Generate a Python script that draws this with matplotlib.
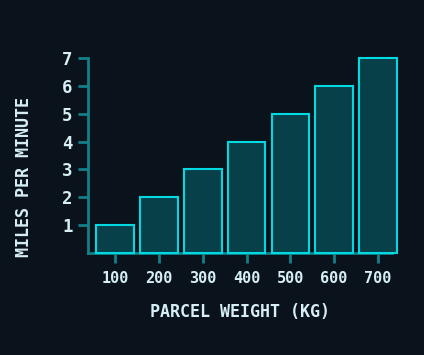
import matplotlib
matplotlib.use('Agg')
import matplotlib.pyplot as plt

# Data
weights = ['100', '200', '300', '400', '500', '600', '700']
speeds = [1, 2, 3, 4, 5, 6, 7]

bg = '#0a131b'
text_color = '#d6eef4'
spine_color = '#11808a'

plt.rcParams['font.family'] = ['DejaVu Sans Mono', 'DejaVu Sans']
plt.rcParams['font.weight'] = 'bold'

fig = plt.figure(figsize=(4.24, 3.55), dpi=100, facecolor=bg)
ax = fig.add_axes([0.2075, 0.287, 0.717, 0.5496], facecolor=bg)

x = list(range(len(weights)))
ax.bar(x, speeds, width=0.86, color='#08404a', edgecolor='#00d8e2',
       linewidth=1.5, clip_on=False, zorder=3)

ax.set_xlim(-0.62, 6.32)
ax.set_ylim(0, 7)
ax.set_xticks(x)
ax.set_xticklabels(weights)
ax.set_yticks(speeds)

for side in ['top', 'right']:
    ax.spines[side].set_visible(False)
for side in ['left', 'bottom']:
    ax.spines[side].set_color(spine_color)
    ax.spines[side].set_linewidth(2)

ax.tick_params(colors=spine_color, width=2, length=7, labelsize=11,
               labelcolor=text_color)
ax.tick_params(axis='x', pad=6)
ax.tick_params(axis='y', pad=4, labelsize=12.5)

ax.set_xlabel('PARCEL WEIGHT (KG)', color=text_color, fontsize=12,
              fontweight='bold', labelpad=12)
ax.set_ylabel('MILES PER MINUTE', color=text_color, fontsize=12,
              fontweight='bold')
ax.yaxis.set_label_coords(-0.181, 0.39)

fig.savefig('out.png', dpi=100, facecolor=bg)
